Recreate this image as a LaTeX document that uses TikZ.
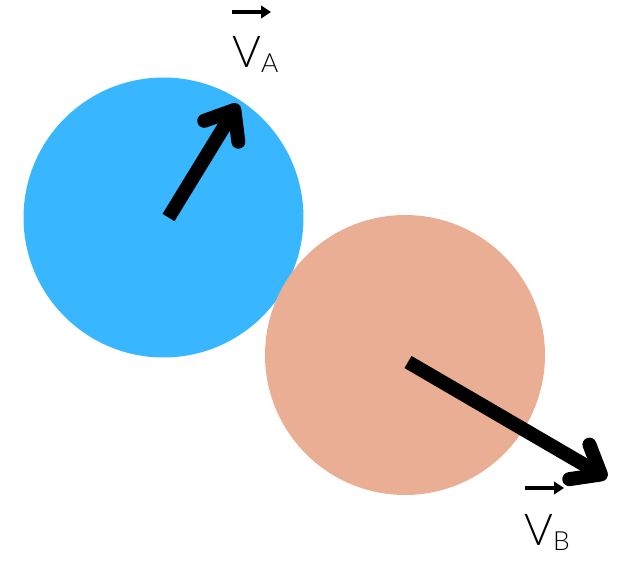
\documentclass[tikz,border=0pt]{standalone}
\usepackage{fontspec}
\setmainfont{Lato Light}
\usetikzlibrary{arrows.meta}
\definecolor{ballA}{HTML}{38B6FF}
\definecolor{ballB}{HTML}{E9AE94}
\tikzstyle{ball}=[circle,minimum size=5.6cm,inner sep=0pt]
\tikzstyle{velocity}=[line width=0.28cm,-{Straight Barb[round,length=0.5cm,width=0.8cm]}]
\tikzstyle{vecmark}=[line width=0.08cm,-{Triangle[length=0.2cm,width=0.25cm]}]
\tikzstyle{vlabel}=[anchor=base west,inner sep=0pt,font=\fontsize{25}{25}\selectfont]
\newcommand{\subsc}[1]{\raisebox{-0.1cm}{\fontsize{15}{15}\selectfont #1}}

\begin{document}
\begin{tikzpicture}[x=0.02cm,y=-0.02cm]
\useasboundingbox (0,0) rectangle (640,568);
    \node [ball,fill=ballA] (A) at (163.5,217.5) {};
    \node [ball,fill=ballB] (B) at (405,355) {};
    \coordinate (tipA) at (238,104);
    \coordinate (tipB) at (607,478);
    \draw [velocity] ([shift={(5,0)}]A.center) -- (tipA);
    \draw [velocity] ([shift={(3,7)}]B.center) -- (tipB);
    % labels
    \node [vlabel] (VA) at (232,68) {V\subsc{A}};
    \node [vlabel] (VB) at (524,545) {V\subsc{B}};
    \coordinate (mA1) at (232,12);
    \coordinate (mA2) at (271,12);
    \coordinate (mB1) at (525,488);
    \coordinate (mB2) at (564,488);
    \draw [vecmark] (mA1) -- (mA2);
    \draw [vecmark] (mB1) -- (mB2);
\end{tikzpicture}
\end{document}
